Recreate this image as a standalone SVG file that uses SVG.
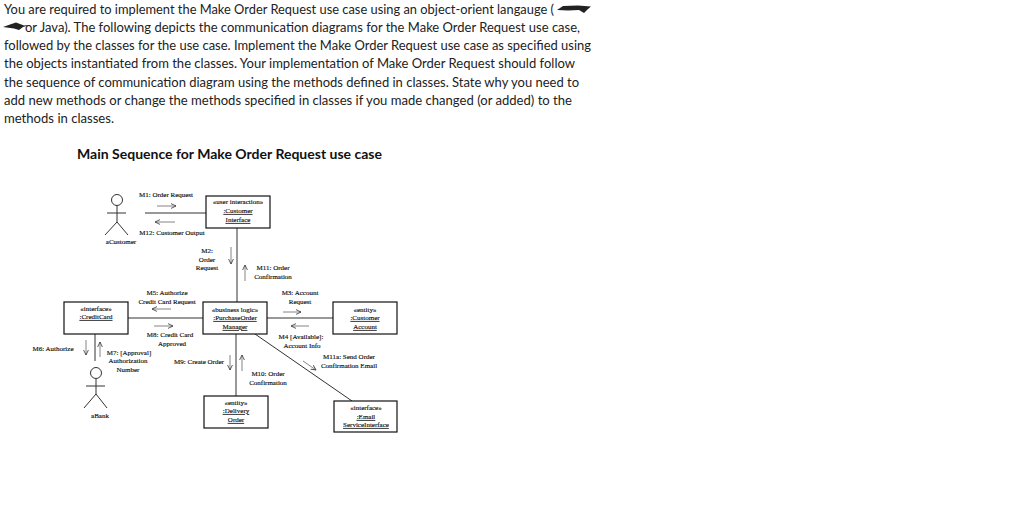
<svg xmlns="http://www.w3.org/2000/svg" width="1024" height="509" viewBox="0 0 1024 509">
<defs>
<marker id="a" markerWidth="7" markerHeight="6" refX="5" refY="3" orient="auto" markerUnits="userSpaceOnUse"><path d="M0 .6L5 3L0 5.4" fill="none" stroke="#333" stroke-width=".8"/></marker>
</defs>
<style>
.p{font:13.400px "Lato","Noto Sans",sans-serif;fill:#222}
.h{font:bold 13.400px "Lato","Noto Sans",sans-serif;fill:#111}
.t{font:7px "Liberation Serif","Times New Roman",serif;fill:#111;text-anchor:middle;stroke:#111;stroke-width:.15}
.u{text-decoration:underline}
.b{fill:#fff;stroke:#111;stroke-width:1.2}
.c{fill:none;stroke:#333;stroke-width:1}
.m{fill:none;stroke:#666;stroke-width:.8;marker-end:url(#a)}
</style>
<rect width="1024" height="509" fill="#fff"/>
<g id="prose">
<text class="p" x="4" y="14" textLength="550" lengthAdjust="spacingAndGlyphs">You are required to implement the Make Order Request use case using an object-orient langauge (</text>
<text class="p" x="25" y="32" textLength="555" lengthAdjust="spacingAndGlyphs">or Java). The following depicts the communication diagrams for the Make Order Request use case,</text>
<text class="p" x="4" y="50" textLength="587" lengthAdjust="spacingAndGlyphs">followed by the classes for the use case. Implement the Make Order Request use case as specified using</text>
<text class="p" x="4" y="68" textLength="571" lengthAdjust="spacingAndGlyphs">the objects instantiated from the classes. Your implementation of Make Order Request should follow</text>
<text class="p" x="4" y="87" textLength="575" lengthAdjust="spacingAndGlyphs">the sequence of communication diagram using the methods defined in classes. State why you need to</text>
<text class="p" x="4" y="105" textLength="568" lengthAdjust="spacingAndGlyphs">add new methods or change the methods specified in classes if you made changed (or added) to the</text>
<text class="p" x="4" y="123" textLength="110" lengthAdjust="spacingAndGlyphs">methods in classes.</text>
<text class="h" x="77" y="159" textLength="305" lengthAdjust="spacingAndGlyphs">Main Sequence for Make Order Request use case</text>
<path d="M557 10L563 6L578 5.500L591 6.500L588 9L584 13L579 10L568 10.500ZM3 27L10 24.500L16 22.500L24 25.500L30 25L23 27L19 30L14 28.500Z" fill="#222"/>
</g>
<g id="connectors">
<path class="c" d="M145 213H206M237 228V302M128 318H203M267 318H333M236 334V396M255 334L352 401M95 334V361"/>
<path class="m" d="M157 206H176"/>
<path class="m" d="M175 222H155"/>
<path class="m" d="M231 247V264"/>
<path class="m" d="M245 281V265"/>
<path class="m" d="M171 309H152"/>
<path class="m" d="M154 326H173"/>
<path class="m" d="M283 312H301"/>
<path class="m" d="M309 326H291"/>
<path class="m" d="M230 355V370"/>
<path class="m" d="M242 371V355"/>
<path class="m" d="M303 361L316 370"/>
<path class="m" d="M86 340V355"/>
<path class="m" d="M100 357V342"/>
</g>
<g id="aCustomer">
<circle class="c" cx="117" cy="200" r="5.500" fill="#fff"/>
<path class="c" d="M117 205.500V222M107 213H126M117 222L105 235M117 222L128 235"/>
<text class="t" x="121" y="244">aCustomer</text>
</g>
<g id="aBank">
<circle class="c" cx="96" cy="373" r="5.500" fill="#fff"/>
<path class="c" d="M96 379V394M86 386H105M96 394L84 408M96 394L107 408"/>
<text class="t" x="100" y="418">aBank</text>
</g>
<g id="customerInterface">
<rect class="b" x="206" y="196" width="64" height="32"/>
<text class="t" x="238" y="204">«user interaction»</text>
<text class="t u" x="238" y="213">:Customer</text>
<text class="t u" x="238" y="222">Interface</text>
</g>
<g id="purchaseOrderManager">
<rect class="b" x="203" y="302" width="64" height="32"/>
<text class="t" x="235" y="312">«business logic»</text>
<text class="t u" x="235" y="320">:PurchaseOrder</text>
<text class="t u" x="235" y="329">Manager</text>
</g>
<g id="creditCard">
<rect class="b" x="64" y="302" width="64" height="32"/>
<text class="t" x="96" y="311">«interface»</text>
<text class="t u" x="96" y="319">:CreditCard</text>
</g>
<g id="customerAccount">
<rect class="b" x="333" y="302" width="64" height="32"/>
<text class="t" x="365" y="312">«entity»</text>
<text class="t u" x="365" y="320">:Customer</text>
<text class="t u" x="365" y="329">Account</text>
</g>
<g id="deliveryOrder">
<rect class="b" x="204" y="396" width="64" height="32"/>
<text class="t" x="236" y="405">«entity»</text>
<text class="t u" x="236" y="413">:Delivery</text>
<text class="t u" x="236" y="422">Order</text>
</g>
<g id="emailServiceInterface">
<rect class="b" x="334" y="401" width="63" height="31"/>
<text class="t" x="366" y="410">«interface»</text>
<text class="t u" x="366" y="419">:Email</text>
<text class="t u" x="366" y="427">ServiceInterface</text>
</g>
<g id="labels">
<text class="t" x="166" y="197">M1: Order Request</text>
<text class="t" x="172" y="235">M12: Customer Output</text>
<text class="t" x="207" y="253">M2:</text>
<text class="t" x="207" y="262">Order</text>
<text class="t" x="207" y="270">Request</text>
<text class="t" x="273" y="270">M11: Order</text>
<text class="t" x="273" y="279">Confirmation</text>
<text class="t" x="167" y="295">M5: Authorize</text>
<text class="t" x="167" y="304">Credit Card Request</text>
<text class="t" x="300" y="295">M3: Account</text>
<text class="t" x="300" y="304">Request</text>
<text class="t" x="170" y="337">M8: Credit Card</text>
<text class="t" x="172" y="346">Approved</text>
<text class="t" x="301" y="339">M4 [Available]:</text>
<text class="t" x="302" y="348">Account Info</text>
<text class="t" x="53" y="351">M6: Authorize</text>
<text class="t" x="129" y="355">M7: [Approval]</text>
<text class="t" x="128" y="363">Authorization</text>
<text class="t" x="128" y="372">Number</text>
<text class="t" x="199" y="364">M9: Create Order</text>
<text class="t" x="349" y="359">M11a: Send Order</text>
<text class="t" x="349" y="368">Confirmation Email</text>
<text class="t" x="268" y="376">M10: Order</text>
<text class="t" x="268" y="385">Confirmation</text>
</g>
</svg>
